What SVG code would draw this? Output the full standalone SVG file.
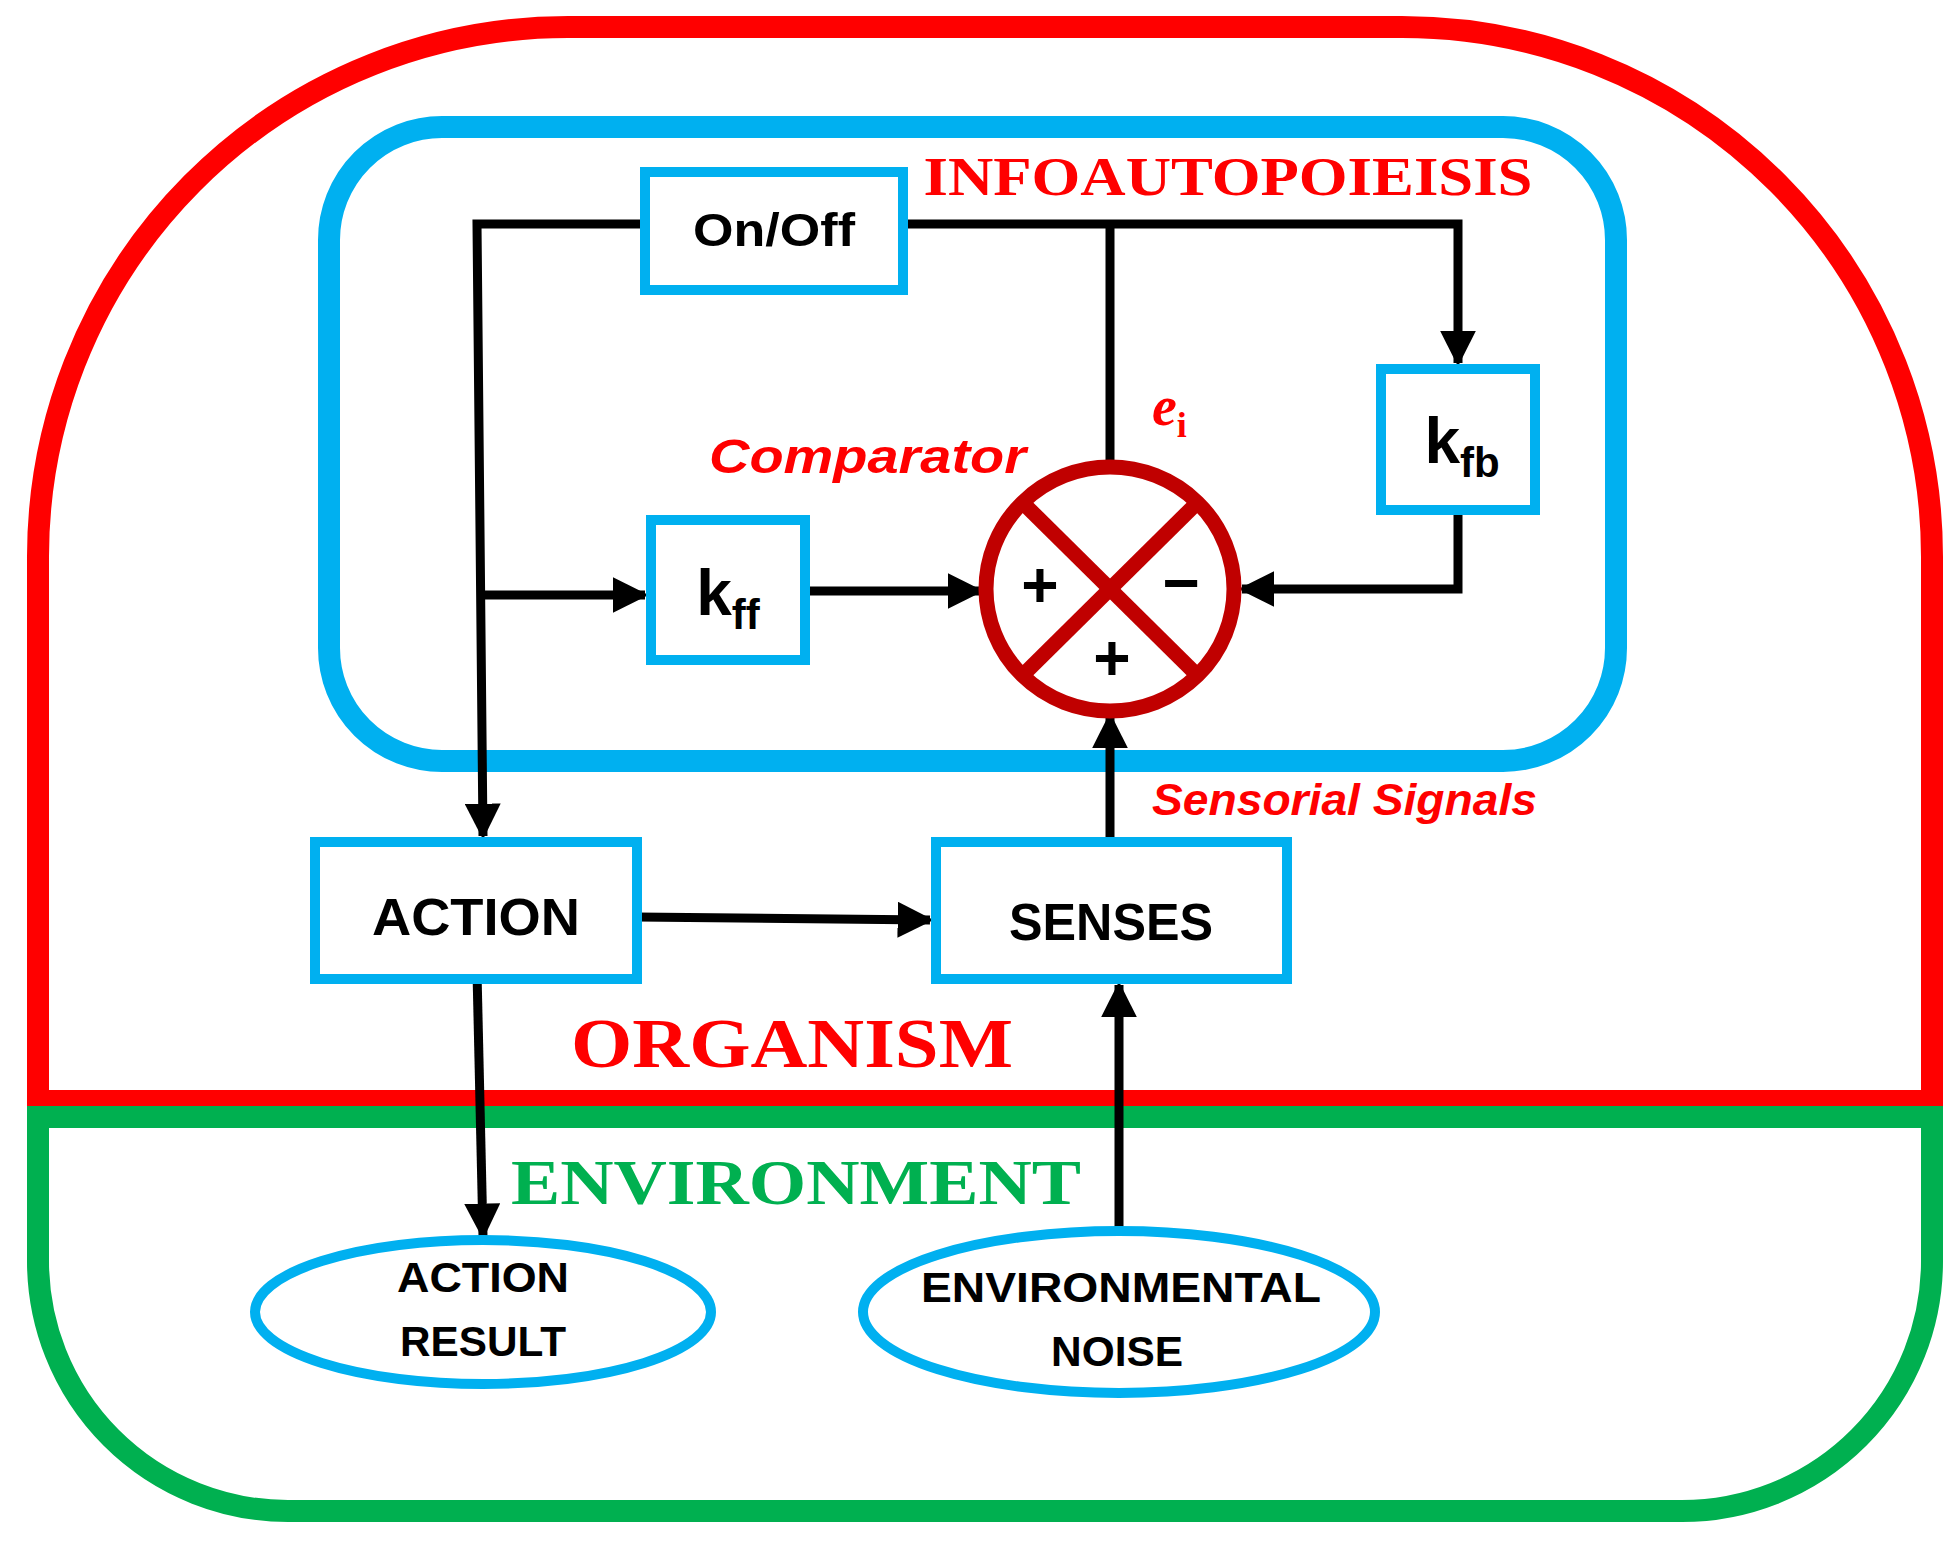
<svg xmlns="http://www.w3.org/2000/svg" width="1957" height="1542" viewBox="0 0 1957 1542">
<defs>
<style>
.box{fill:#fff;stroke:#00B0F0;stroke-width:10}
.ln{fill:none;stroke:#000;stroke-width:9}
.t{font-family:"Liberation Sans",Arial,sans-serif;font-weight:bold;fill:#000;text-anchor:middle}
.red{font-family:"Liberation Sans",Arial,sans-serif;font-weight:bold;font-style:italic;fill:#FF0000}
.serif{font-family:"Liberation Serif","Times New Roman",serif;font-weight:bold}
</style>
<marker id="ah" viewBox="0 0 10 10" refX="9" refY="5" markerWidth="4" markerHeight="4" markerUnits="strokeWidth" orient="auto"><path d="M0,0 L10,5 L0,10 z" fill="#000"/></marker>
</defs>
<rect width="1957" height="1542" fill="#fff"/>
<g id="organism"><path d="M38,1101 L38,560 A530,530 0 0 1 568,27 L1402,27 A530,530 0 0 1 1932,560 L1932,1101 Z" fill="none" stroke="#FF0000" stroke-width="22"/>
<text class="serif" x="792" y="1067" font-size="70" fill="#FF0000" text-anchor="middle" textLength="442" lengthAdjust="spacingAndGlyphs">ORGANISM</text></g>
<g id="environment"><path d="M38,1117 L1932,1117 L1932,1261 A250,250 0 0 1 1682,1511 L288,1511 A250,250 0 0 1 38,1261 Z" fill="none" stroke="#00B050" stroke-width="22"/>
<text class="serif" x="796" y="1204" font-size="64" fill="#00B050" text-anchor="middle" textLength="570" lengthAdjust="spacingAndGlyphs">ENVIRONMENT</text></g>
<g id="infoautopoiesis"><rect x="329" y="127" width="1287" height="634" rx="113" fill="none" stroke="#00B0F0" stroke-width="22"/>
<text class="serif" x="1228" y="195" font-size="54" fill="#FF0000" text-anchor="middle" textLength="609" lengthAdjust="spacingAndGlyphs">INFOAUTOPOIEISIS</text></g>
<g id="connectors">
<polyline class="ln" points="645,224 477,224 483,836" marker-end="url(#ah)"/>
<line class="ln" x1="483" y1="595" x2="645" y2="595" marker-end="url(#ah)"/>
<line class="ln" x1="805" y1="591" x2="980" y2="591" marker-end="url(#ah)"/>
<polyline class="ln" points="903,224 1458,224 1458,363" marker-end="url(#ah)"/>
<line class="ln" x1="1110" y1="224" x2="1110" y2="465"/>
<polyline class="ln" points="1458,510 1458,589 1242,589" marker-end="url(#ah)"/>
<line class="ln" x1="1110" y1="842" x2="1110" y2="716" marker-end="url(#ah)"/>
<line class="ln" x1="637" y1="917" x2="930" y2="920" marker-end="url(#ah)"/>
<line class="ln" x1="477" y1="972" x2="483" y2="1236" marker-end="url(#ah)"/>
<line class="ln" x1="1119" y1="1229" x2="1119" y2="985" marker-end="url(#ah)"/>
</g>
<g id="onoff"><rect class="box" x="645" y="172" width="258" height="118"/><text class="t" x="774" y="246" font-size="46" textLength="162" lengthAdjust="spacingAndGlyphs">On/Off</text></g>
<g id="kfb"><rect class="box" x="1381" y="369" width="154" height="141"/><text class="t" x="1462" y="463" font-size="64">k<tspan font-size="42" dy="14">fb</tspan></text></g>
<g id="kff"><rect class="box" x="651" y="520" width="154" height="140"/><text class="t" x="728" y="615" font-size="64">k<tspan font-size="42" dy="14">ff</tspan></text></g>
<g id="comparator">
<ellipse cx="1110" cy="589" rx="124" ry="122" fill="#fff" stroke="#C00000" stroke-width="15"/>
<line x1="1023" y1="503" x2="1197" y2="675" stroke="#C00000" stroke-width="15"/>
<line x1="1197" y1="503" x2="1023" y2="675" stroke="#C00000" stroke-width="15"/>
<text class="t" x="1040" y="607" font-size="64">+</text>
<text class="t" x="1112" y="680" font-size="64">+</text>
<text class="t" x="1181" y="605" font-size="64">−</text>
<text class="red" x="709" y="473" font-size="48" textLength="317" lengthAdjust="spacingAndGlyphs">Comparator</text>
<text x="1152" y="425" font-family="Liberation Serif,serif" font-style="italic" font-weight="bold" font-size="56" fill="#FF0000">e<tspan font-style="normal" font-size="36" dy="12">i</tspan></text>
</g>
<text class="red" x="1152" y="815" font-size="44" textLength="385" lengthAdjust="spacingAndGlyphs">Sensorial Signals</text>
<g id="action"><rect class="box" x="315" y="842" width="322" height="137"/><text class="t" x="476" y="935" font-size="52" textLength="208" lengthAdjust="spacingAndGlyphs">ACTION</text></g>
<g id="senses"><rect class="box" x="936" y="842" width="351" height="137"/><text class="t" x="1111" y="940" font-size="52" textLength="204" lengthAdjust="spacingAndGlyphs">SENSES</text></g>
<g id="actionresult"><ellipse cx="483" cy="1312" rx="228" ry="72" fill="#fff" stroke="#00B0F0" stroke-width="10"/>
<text class="t" x="483" y="1292" font-size="42" textLength="172" lengthAdjust="spacingAndGlyphs">ACTION</text>
<text class="t" x="483" y="1356" font-size="42" textLength="166" lengthAdjust="spacingAndGlyphs">RESULT</text></g>
<g id="envnoise"><ellipse cx="1119" cy="1312" rx="256" ry="81" fill="#fff" stroke="#00B0F0" stroke-width="10"/>
<text class="t" x="1121" y="1302" font-size="42" textLength="400" lengthAdjust="spacingAndGlyphs">ENVIRONMENTAL</text>
<text class="t" x="1117" y="1366" font-size="42" textLength="132" lengthAdjust="spacingAndGlyphs">NOISE</text></g>
</svg>
